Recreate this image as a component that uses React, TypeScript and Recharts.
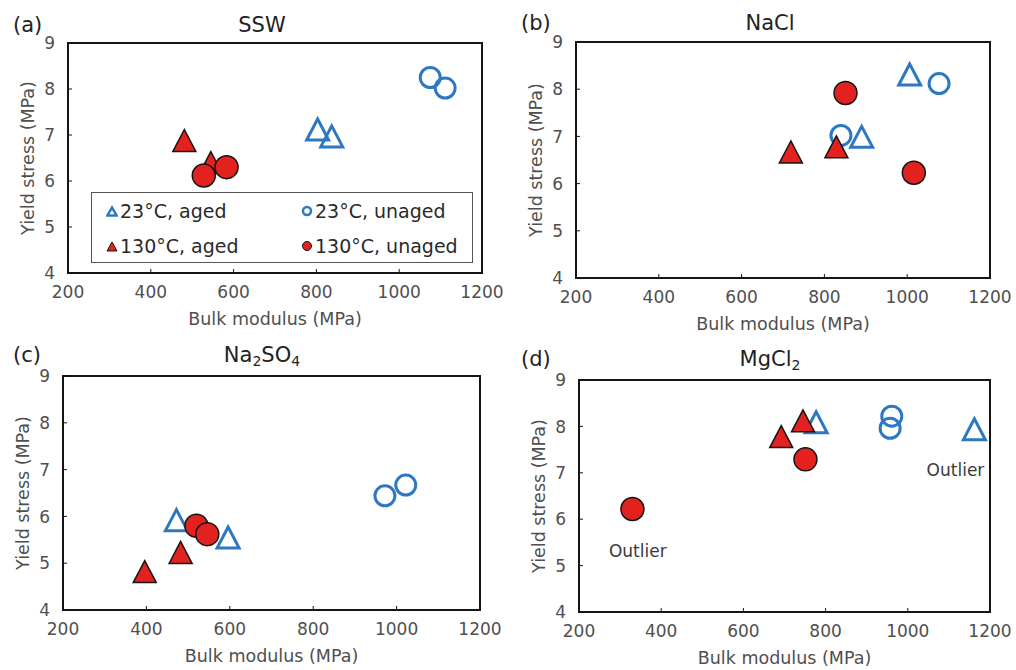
import React from "react";
import {
  ScatterChart,
  Scatter,
  XAxis,
  YAxis,
  ReferenceArea,
  ReferenceDot,
  Legend,
  Label,
} from "recharts";

const X_TICKS = [200, 400, 600, 800, 1000, 1200];
const Y_TICKS = [4, 5, 6, 7, 8, 9];

// bulk modulus (MPa) vs yield stress (MPa)
const SSW_AGED_23 = [{ x: 803, y: 7.12 }, { x: 837, y: 6.97 }];
const SSW_UNAGED_23 = [{ x: 1075, y: 8.25 }, { x: 1111, y: 8.02 }];
const SSW_AGED_130 = [{ x: 481, y: 6.88 }, { x: 545, y: 6.4 }];
const SSW_UNAGED_130 = [{ x: 528, y: 6.12 }, { x: 583, y: 6.3 }];

const NACL_AGED_23 = [{ x: 1006, y: 8.31 }, { x: 890, y: 6.99 }];
const NACL_UNAGED_23 = [{ x: 1077, y: 8.12 }, { x: 840, y: 7.02 }];
const NACL_AGED_130 = [{ x: 719, y: 6.67 }, { x: 829, y: 6.78 }];
const NACL_UNAGED_130 = [{ x: 851, y: 7.92 }, { x: 1016, y: 6.23 }];

const NA2SO4_AGED_23 = [{ x: 472, y: 5.92 }, { x: 596, y: 5.55 }];
const NA2SO4_UNAGED_23 = [{ x: 972, y: 6.44 }, { x: 1022, y: 6.67 }];
const NA2SO4_AGED_130 = [{ x: 396, y: 4.82 }, { x: 482, y: 5.23 }];
const NA2SO4_UNAGED_130 = [{ x: 520, y: 5.8 }, { x: 546, y: 5.62 }];

const MGCL2_AGED_23 = [{ x: 777, y: 8.09 }, { x: 1162, y: 7.94 }];
const MGCL2_UNAGED_23 = [{ x: 961, y: 8.22 }, { x: 957, y: 7.96 }];
const MGCL2_AGED_130 = [{ x: 692, y: 7.78 }, { x: 745, y: 8.12 }];
const MGCL2_UNAGED_130 = [{ x: 330, y: 6.22 }, { x: 751, y: 7.29 }];

const MGCL2_NOTES = [
  { x: 343, y: 5.31, text: "Outlier" },
  { x: 1116, y: 7.07, text: "Outlier" },
];

const LEGEND_NAMES = ["23°C, aged", "23°C, unaged", "130°C, aged", "130°C, unaged"];

const BLUE = "#2e78c2";
const RED = "#e3211f";
const EDGE = "#151515";
const GREY = "#4f4f4f";
const FONT = "'DejaVu Sans', Verdana, sans-serif";

const TICK_SIZE = 8;
const TICK_MARGIN = 5;

function XTick(props: any) {
  const { x, y, payload } = props;
  const axisY = y - TICK_SIZE - TICK_MARGIN;
  return (
    <g>
      <line x1={x} x2={x} y1={axisY} y2={axisY - 4} stroke={EDGE} strokeWidth={1} />
      <text x={x} y={y} dy="0.71em" textAnchor="middle" fill={GREY} fontSize={17}>
        {payload.value}
      </text>
    </g>
  );
}

function YTick(props: any) {
  const { x, y, payload } = props;
  const axisX = x + TICK_SIZE + TICK_MARGIN;
  return (
    <g>
      <line x1={axisX} x2={axisX + 4} y1={y} y2={y} stroke={EDGE} strokeWidth={1} />
      <text x={x} y={y} dy="0.36em" textAnchor="end" fill={GREY} fontSize={17}>
        {payload.value}
      </text>
    </g>
  );
}

function XLab(props: any) {
  const { viewBox } = props;
  return (
    <text
      x={viewBox.x + viewBox.width / 2}
      y={viewBox.y + 46}
      dy="0.36em"
      textAnchor="middle"
      fill={GREY}
      fontSize={17.5}
    >
      Bulk modulus (MPa)
    </text>
  );
}

function YLab(props: any) {
  const { viewBox } = props;
  const cx = viewBox.x + viewBox.width - 40;
  const cy = viewBox.y + viewBox.height / 2;
  return (
    <text
      x={cx}
      y={cy}
      dy="0.36em"
      textAnchor="middle"
      fill={GREY}
      fontSize={17.5}
      transform={`rotate(-90 ${cx} ${cy})`}
    >
      Yield stress (MPa)
    </text>
  );
}

const triPoints = (cx: number, cy: number, w: number, h: number) =>
  `${cx},${cy - h / 2} ${cx - w / 2},${cy + h / 2} ${cx + w / 2},${cy + h / 2}`;

const BlueTri = (p: any) => (
  <polygon points={triPoints(p.cx, p.cy, 22, 21)} fill="none" stroke={BLUE} strokeWidth={3} />
);
const BlueRing = (p: any) => (
  <circle cx={p.cx} cy={p.cy} r={10} fill="none" stroke={BLUE} strokeWidth={3} />
);
const RedTri = (p: any) => (
  <polygon points={triPoints(p.cx, p.cy, 23, 22)} fill={RED} stroke={EDGE} strokeWidth={1.5} />
);
const RedDot = (p: any) => (
  <circle cx={p.cx} cy={p.cy} r={11.5} fill={RED} stroke={EDGE} strokeWidth={1.5} />
);

function LegendMark({ i }: { i: number }) {
  return (
    <svg width={12} height={12} style={{ marginRight: 2 }}>
      {i === 0 && <polygon points={triPoints(6, 6.5, 9, 8)} fill="none" stroke={BLUE} strokeWidth={2.5} />}
      {i === 1 && <circle cx={6} cy={6} r={4} fill="none" stroke={BLUE} strokeWidth={2.5} />}
      {i === 2 && <polygon points={triPoints(6, 6.5, 10, 9)} fill={RED} stroke={EDGE} strokeWidth={1} />}
      {i === 3 && <circle cx={6} cy={6} r={4.5} fill={RED} stroke={EDGE} strokeWidth={1} />}
    </svg>
  );
}

function LegendBox() {
  return (
    <div
      style={{
        width: 382,
        height: 71,
        boxSizing: "border-box",
        border: "1.5px solid #555",
        background: "#fff",
        display: "grid",
        gridTemplateColumns: "191px 191px",
        gridTemplateRows: "35px 35px",
        fontFamily: FONT,
        fontSize: 19,
        color: "#2a2a2a",
      }}
    >
      {LEGEND_NAMES.map((n, i) => (
        <div
          key={n}
          style={{
            display: "flex",
            alignItems: "center",
            paddingLeft: i % 2 === 0 ? 14 : 18,
          }}
        >
          <LegendMark i={i} />
          <span>{n}</span>
        </div>
      ))}
    </div>
  );
}

interface PanelProps {
  left: number;
  top: number;
  plot: [number, number, number, number];
  tag: string;
  title: React.ReactNode;
  titleY: number;
  aged23: { x: number; y: number }[];
  unaged23: { x: number; y: number }[];
  aged130: { x: number; y: number }[];
  unaged130: { x: number; y: number }[];
  notes?: { x: number; y: number; text: string }[];
  legend?: boolean;
}

const W = 508;
const H = 335;
const YW = 50;
const XH = 50;

function Panel(p: PanelProps) {
  const [pl, pt, pr, pb] = p.plot;
  return (
    <div style={{ position: "absolute", left: p.left, top: p.top, width: W, height: H, fontFamily: FONT }}>
      <ScatterChart
        width={W}
        height={H}
        margin={{ left: pl - YW, top: pt, right: W - pr, bottom: H - pb - XH }}
      >
        <XAxis
          type="number"
          dataKey="x"
          domain={[200, 1200]}
          ticks={X_TICKS}
          interval={0}
          height={XH}
          axisLine={false}
          tickLine={false}
          tickSize={TICK_SIZE}
          tickMargin={TICK_MARGIN}
          tick={<XTick />}
        >
          <Label content={<XLab />} />
        </XAxis>
        <YAxis
          type="number"
          dataKey="y"
          domain={[4, 9]}
          ticks={Y_TICKS}
          interval={0}
          width={YW}
          axisLine={false}
          tickLine={false}
          tickSize={TICK_SIZE}
          tickMargin={TICK_MARGIN}
          tick={<YTick />}
        >
          <Label content={<YLab />} />
        </YAxis>
        <ReferenceArea
          x1={200}
          x2={1200}
          y1={4}
          y2={9}
          fill="none"
          stroke={EDGE}
          strokeWidth={2}
          ifOverflow="visible"
        />
        <Scatter name={LEGEND_NAMES[0]} data={p.aged23} shape={BlueTri} isAnimationActive={false} />
        <Scatter name={LEGEND_NAMES[1]} data={p.unaged23} shape={BlueRing} isAnimationActive={false} />
        <Scatter name={LEGEND_NAMES[2]} data={p.aged130} shape={RedTri} isAnimationActive={false} />
        <Scatter name={LEGEND_NAMES[3]} data={p.unaged130} shape={RedDot} isAnimationActive={false} />
        {(p.notes || []).map((n, i) => (
          <ReferenceDot
            key={i}
            x={n.x}
            y={n.y}
            r={1}
            fill="none"
            stroke="none"
            label={{ value: n.text, position: "center", fill: "#3a3a3a", fontSize: 17 }}
          />
        ))}
        {p.legend && (
          <Legend
            layout="horizontal"
            verticalAlign="middle"
            align="center"
            content={() => <LegendBox />}
            wrapperStyle={{ position: "absolute", left: 91, top: 192, width: 382, height: 71 }}
          />
        )}
      </ScatterChart>
      <div
        style={{
          position: "absolute",
          left: 13,
          top: p.titleY,
          transform: "translateY(-50%)",
          fontSize: 21,
          color: "#222",
          lineHeight: 1,
        }}
      >
        {p.tag}
      </div>
      <div
        style={{
          position: "absolute",
          left: 262,
          top: p.titleY,
          transform: "translate(-50%, -50%)",
          fontSize: 21,
          color: "#222",
          lineHeight: 1,
          whiteSpace: "nowrap",
        }}
      >
        {p.title}
      </div>
    </div>
  );
}

const sub = (s: string) => (
  <sub style={{ fontSize: 14, verticalAlign: "-4px", lineHeight: 0 }}>{s}</sub>
);

export default function App() {
  return (
    <div style={{ position: "absolute", left: 0, top: 0, width: 1016, height: 670, background: "#fff", overflow: "hidden" }}>
      <Panel
        left={0}
        top={0}
        plot={[68, 43, 482, 273]}
        tag="(a)"
        title="SSW"
        titleY={25}
        aged23={SSW_AGED_23}
        unaged23={SSW_UNAGED_23}
        aged130={SSW_AGED_130}
        unaged130={SSW_UNAGED_130}
        legend
      />
      <Panel
        left={508}
        top={0}
        plot={[68, 42, 482, 278]}
        tag="(b)"
        title="NaCl"
        titleY={23}
        aged23={NACL_AGED_23}
        unaged23={NACL_UNAGED_23}
        aged130={NACL_AGED_130}
        unaged130={NACL_UNAGED_130}
      />
      <Panel
        left={0}
        top={335}
        plot={[63, 41, 480, 275]}
        tag="(c)"
        title={<span>Na{sub("2")}SO{sub("4")}</span>}
        titleY={20}
        aged23={NA2SO4_AGED_23}
        unaged23={NA2SO4_UNAGED_23}
        aged130={NA2SO4_AGED_130}
        unaged130={NA2SO4_UNAGED_130}
      />
      <Panel
        left={508}
        top={335}
        plot={[71, 45, 482, 277]}
        tag="(d)"
        title={<span>MgCl{sub("2")}</span>}
        titleY={24}
        aged23={MGCL2_AGED_23}
        unaged23={MGCL2_UNAGED_23}
        aged130={MGCL2_AGED_130}
        unaged130={MGCL2_UNAGED_130}
        notes={MGCL2_NOTES}
      />
    </div>
  );
}
